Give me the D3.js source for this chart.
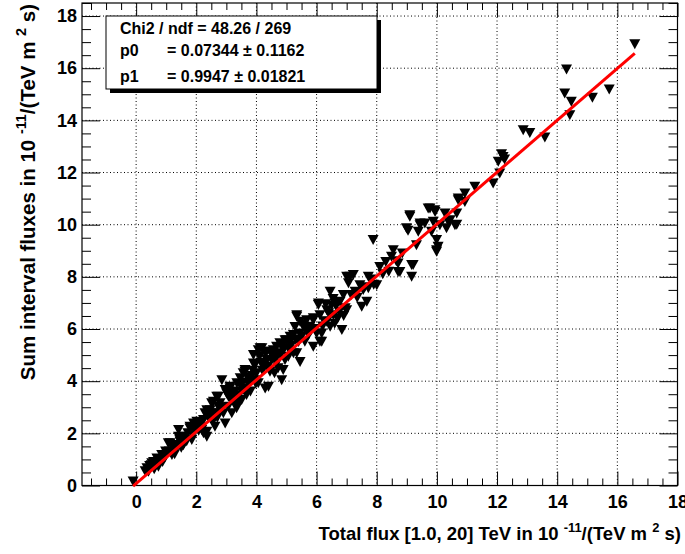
<!DOCTYPE html>
<html><head><meta charset="utf-8">
<script src="https://cdn.jsdelivr.net/npm/d3@7"></script>
<style>
html,body{margin:0;padding:0;background:#fff;}
svg{display:block;}
text{font-family:"Liberation Sans",Arial,Helvetica,sans-serif;font-weight:bold;}
</style></head>
<body>
<svg id="c" width="685" height="554"></svg>
<script>
// Data
const fluxTotal = [
-0.1,0.36,0.41,0.5,0.52,0.58,0.62,0.69,0.74,0.74,0.8,0.85,0.88,0.91,0.95,0.98,0.6,0.45,0.3,0.7,
1.02,1.07,1.13,1.19,1.24,1.3,1.35,1.41,1.41,1.45,1.46,1.5,1.57,1.63,1.68,1.72,1.79,1.79,1.85,1.91,1.95,1.1,1.28,1.6,1.88,
2.02,2.02,2.08,2.18,2.24,2.24,2.29,2.35,2.35,2.35,2.4,2.46,2.46,2.51,2.55,2.57,2.57,2.62,2.62,2.68,2.73,2.73,2.79,2.84,2.85,2.9,2.96,2.96,2.7,2.15,
3.01,3.06,3.07,3.12,3.12,3.18,3.23,3.23,3.3,3.34,3.35,3.4,3.46,3.46,3.51,3.56,3.6,3.62,3.62,3.67,3.72,3.78,3.8,3.85,3.9,3.9,3.95,3.98,3.15,3.28,3.5,3.7,3.55,3.88,3.42,
4.01,4.06,4.06,4.1,4.12,4.18,4.2,4.29,4.29,4.34,4.34,4.4,4.45,4.45,4.5,4.56,4.62,4.67,4.67,4.67,4.72,4.78,4.84,4.84,4.89,4.95,4.95,4.25,4.38,4.55,4.15,4.8,4.6,4.9,4.0,
5.0,5.06,5.06,5.12,5.12,5.23,5.23,5.28,5.34,5.34,5.34,5.45,5.45,5.45,5.5,5.56,5.56,5.61,5.67,5.67,5.73,5.78,5.89,5.89,5.89,5.95,5.15,5.4,5.8,5.3,
6.0,6.06,6.06,6.11,6.11,6.17,6.17,6.25,6.34,6.34,6.4,6.45,6.45,6.5,6.56,6.61,6.67,6.7,6.78,6.84,6.89,6.95,6.2,6.3,6.6,6.75,6.9,6.55,
7.0,7.0,7.06,7.11,7.22,7.28,7.35,7.44,7.5,7.55,7.67,7.72,7.72,7.8,7.88,7.9,7.15,7.6,
8.0,8.1,8.2,8.3,8.4,8.49,8.55,8.65,8.71,8.71,8.77,8.85,8.99,
9.04,9.1,9.1,9.16,9.16,9.21,9.32,9.38,9.44,9.44,9.6,9.71,9.77,9.82,9.88,9.93,9.94,9.99,9.99,9.99,
10.04,10.1,10.27,10.32,10.38,10.44,10.6,10.66,10.66,10.71,10.71,10.93,10.93,
11.26,11.87,12.04,12.09,12.15,12.2,12.25,12.87,13.09,13.59,14.25,14.31,14.42,14.47,15.17,15.73,16.58
];
const fluxSum = [
0.15,0.66,0.53,0.78,0.85,0.9,0.7,1.04,0.72,1.02,0.95,1.17,0.9,1.15,1.05,1.3,0.62,0.75,0.55,0.85,
1.23,1.62,1.62,1.17,1.49,1.35,1.55,2.13,1.87,1.75,1.68,1.45,1.54,1.87,1.7,2.0,2.25,2.19,1.74,2.38,2.1,1.3,1.2,1.62,1.95,
2.44,2.25,2.1,2.13,2.51,2.0,2.77,1.87,2.06,2.89,2.6,2.89,2.7,3.15,2.45,3.21,2.77,2.25,2.77,3.4,3.4,3.02,3.15,2.98,4.04,2.77,2.38,3.66,2.6,2.35,
3.53,3.02,3.4,3.79,3.72,2.77,3.57,3.28,3.1,2.96,3.92,3.45,4.11,3.85,3.28,4.3,3.7,4.43,4.36,3.47,3.9,4.0,3.6,4.2,4.68,5.0,4.62,3.9,3.3,3.6,3.6,4.15,3.95,4.4,3.2,
4.04,5.19,3.92,4.94,5.26,5.26,4.4,5.07,3.72,4.81,5.13,3.79,5.13,4.36,4.81,5.19,4.81,5.32,5.07,4.68,4.5,5.45,5.38,4.04,4.43,5.57,4.81,4.6,4.55,4.95,4.7,5.0,4.3,5.2,4.3,
5.57,5.26,4.94,5.7,5.51,5.07,5.77,6.08,6.53,6.47,5.07,6.28,5.83,4.74,5.7,6.15,6.09,5.51,6.0,6.34,5.77,6.09,6.41,6.34,5.32,6.0,5.35,5.5,5.9,5.6,
5.83,6.92,6.98,6.53,5.51,5.83,5.51,6.3,6.72,6.28,6.6,7.43,6.09,6.9,6.53,6.98,6.92,6.4,7.05,5.96,7.3,6.8,6.1,6.95,6.2,6.65,6.5,7.15,
6.72,8.0,7.75,8.0,8.07,7.43,7.2,7.68,6.85,7.5,7.05,8.0,7.56,7.9,9.41,7.7,7.3,7.6,
7.68,8.38,8.1,8.57,8.2,8.77,9.02,8.6,8.19,8.51,8.19,8.9,9.86,
9.77,10.36,10.3,8.45,8.0,8.45,9.21,9.73,9.98,10.05,10.05,10.62,10.62,9.73,10.11,10.55,10.49,9.41,9.02,8.96,
9.15,9.98,10.43,9.86,10.11,10.17,9.98,10.43,10.0,10.94,11.0,10.87,11.2,
11.45,11.58,12.41,11.96,12.7,12.6,12.5,13.62,13.52,13.34,15.03,15.95,14.2,14.71,14.87,15.18,16.92
];
const xMajorTicks = [0,2,4,6,8,10,12,14,16,18];
const yMajorTicks = [0,2,4,6,8,10,12,14,16,18];
const statsLabels = ["Chi2 / ndf = 48.26 / 269", "p0", "p1"];
const statsValues = ["", "= 0.07344 \u00b1 0.1162", "= 0.9947 \u00b1 0.01821"];
const fitP0 = 0.07344, fitP1 = 0.9947;
const xTitle = ["Total flux [1.0, 20] TeV in 10 ", "-11", "/(TeV m ", "2", " s)"];
const yTitle = ["Sum interval fluxes in 10 ", "-11", "/(TeV m ", "2", " s)"];

const svg = d3.select("#c");
const L = 82, R = 677.5, T = 3, B = 485.5;
const x = d3.scaleLinear().domain([-1.8, 18]).range([L, R]);
const y = d3.scaleLinear().domain([0, 18.5]).range([B, T]);

const xMinor = d3.range(-1.5, 18.01, 0.5).filter(v => Math.abs(v/2 - Math.round(v/2)) > 1e-6);
const yMinor = d3.range(0.5, 18.51, 0.5).filter(v => Math.abs(v/2 - Math.round(v/2)) > 1e-6);

// grid
const grid = svg.append("g").attr("stroke", "#000").attr("stroke-width", 1).attr("stroke-dasharray", "1,2.5");
grid.selectAll("line.gx").data(xMajorTicks.filter(v => v < 18)).join("line")
  .attr("x1", d => x(d)).attr("x2", d => x(d)).attr("y1", T).attr("y2", B);
grid.selectAll("line.gy").data(yMajorTicks.filter(v => v > 0)).join("line")
  .attr("x1", L).attr("x2", R).attr("y1", d => y(d)).attr("y2", d => y(d));

function styleAxis(g) {
  g.select(".domain").remove();
  g.selectAll("line").attr("stroke", "#000").attr("stroke-width", 1);
  g.selectAll("text").attr("fill", "#000").style("font-size", "18px").style("font-family", '"Liberation Sans",Arial,sans-serif').style("font-weight", "bold");
}
// bottom
svg.append("g").attr("transform", `translate(0,${B})`)
  .call(d3.axisBottom(x).tickValues(xMajorTicks).tickSize(-14).tickSizeOuter(0).tickPadding(10).tickFormat(d3.format("d"))).call(styleAxis);
svg.append("g").attr("transform", `translate(0,${B})`)
  .call(d3.axisBottom(x).tickValues(xMinor).tickSize(-7).tickSizeOuter(0).tickFormat("")).call(styleAxis);
// top
svg.append("g").attr("transform", `translate(0,${T})`)
  .call(d3.axisTop(x).tickValues(xMajorTicks).tickSize(-14).tickSizeOuter(0).tickFormat("")).call(styleAxis);
svg.append("g").attr("transform", `translate(0,${T})`)
  .call(d3.axisTop(x).tickValues(xMinor).tickSize(-7).tickSizeOuter(0).tickFormat("")).call(styleAxis);
// left
svg.append("g").attr("transform", `translate(${L},0)`)
  .call(d3.axisLeft(y).tickValues(yMajorTicks).tickSize(-18).tickSizeOuter(0).tickPadding(5).tickFormat(d3.format("d"))).call(styleAxis);
svg.append("g").attr("transform", `translate(${L},0)`)
  .call(d3.axisLeft(y).tickValues(yMinor).tickSize(-9).tickSizeOuter(0).tickFormat("")).call(styleAxis);
// right
svg.append("g").attr("transform", `translate(${R},0)`)
  .call(d3.axisRight(y).tickValues(yMajorTicks).tickSize(-18).tickSizeOuter(0).tickFormat("")).call(styleAxis);
svg.append("g").attr("transform", `translate(${R},0)`)
  .call(d3.axisRight(y).tickValues(yMinor).tickSize(-9).tickSizeOuter(0).tickFormat("")).call(styleAxis);

// frame
svg.append("rect").attr("x", L).attr("y", T).attr("width", R - L).attr("height", B - T)
  .attr("fill", "none").attr("stroke", "#000").attr("stroke-width", 1.2);

// markers (down triangles)
const pts = fluxTotal.map((v, i) => [v, fluxSum[i]]);
svg.append("g").selectAll("path").data(pts).join("path")
  .attr("transform", d => `translate(${x(d[0])},${y(d[1])})`)
  .attr("d", "M-5.5,-5L5.5,-5L0,5Z").attr("fill", "#000");

// fit line
const xr = d3.extent(fluxTotal);
svg.append("line")
  .attr("x1", x(xr[0])).attr("y1", y(fitP0 + fitP1 * xr[0]))
  .attr("x2", x(xr[1])).attr("y2", y(fitP0 + fitP1 * xr[1]))
  .attr("stroke", "#ff0000").attr("stroke-width", 3);

// stats box
const bx = 106, by = 16, bw = 271, bh = 73;
svg.append("rect").attr("x", bx + 4).attr("y", by + 4).attr("width", bw).attr("height", bh).attr("fill", "#000");
svg.append("rect").attr("x", bx).attr("y", by).attr("width", bw).attr("height", bh).attr("fill", "#fff").attr("stroke", "#000").attr("stroke-width", 1);
const baseY = [33.5, 56, 81.5];
statsLabels.forEach((s, i) => {
  svg.append("text").attr("x", 120).attr("y", baseY[i]).style("font-size", "16px").text(s);
  if (statsValues[i]) svg.append("text").attr("x", 167).attr("y", baseY[i]).style("font-size", "16px").text(statsValues[i]);
});

// axis titles
function titleText(sel, parts, size) {
  parts.forEach((p, i) => {
    const sup = i === 1 || i === 3;
    const t = sel.append("tspan").text(p);
    if (sup) t.style("font-size", (size * 0.7) + "px").attr("dy", -size * 0.45);
    else if (i > 0) t.attr("dy", size * 0.45);
  });
}
const xt = svg.append("text").attr("x", 681).attr("y", 540).attr("text-anchor", "end").style("font-size", "18.5px");
titleText(xt, xTitle, 18.5);
const yt = svg.append("text").attr("transform", "translate(35,4) rotate(-90)").attr("text-anchor", "end").style("font-size", "20.5px");
titleText(yt, yTitle, 20.5);
</script>
</body></html>
